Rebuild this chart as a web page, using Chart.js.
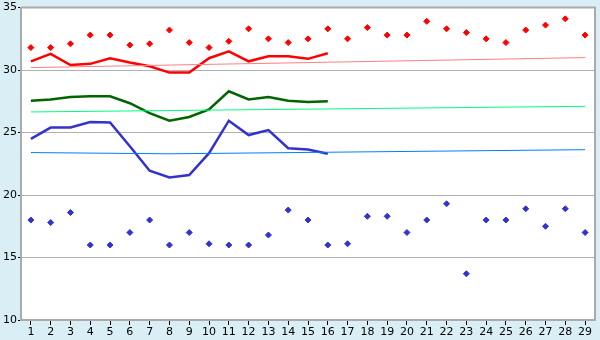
<!DOCTYPE html>
<html>
<head>
<meta charset="utf-8">
<script src="https://cdn.jsdelivr.net/npm/chart.js@4"></script>
<style>
    html, body { margin: 0; padding: 0; background: #daeef5; }
    #wrap { width: 600px; height: 340px; }
</style>
</head>
<body>
<div id="wrap"><canvas id="chart" width="600" height="340"></canvas></div>
<script>
const days = ['1','2','3','4','5','6','7','8','9','10','11','12','13','14','15',
    '16','17','18','19','20','21','22','23','24','25','26','27','28','29'];

// daily highs / lows (scatter)
const highs = [31.8, 31.8, 32.1, 32.8, 32.8, 32.0, 32.1, 33.2, 32.2, 31.8, 32.3, 33.3, 32.5, 32.2, 32.5,
    33.3, 32.5, 33.4, 32.8, 32.8, 33.9, 33.3, 33.0, 32.5, 32.2, 33.2, 33.6, 34.1, 32.8];
const lows = [18.0, 17.8, 18.6, 16.0, 16.0, 17.0, 18.0, 16.0, 17.0, 16.1, 16.0, 16.0, 16.8, 18.8, 18.0,
    16.0, 16.1, 18.3, 18.3, 17.0, 18.0, 19.3, 13.7, 18.0, 18.0, 18.9, 17.5, 18.9, 17.0];

// running averages (first 16 days)
const avgHigh = [30.7, 31.3, 30.4, 30.5, 30.95, 30.6, 30.3, 29.8, 29.8, 30.95, 31.5, 30.7, 31.1, 31.1, 30.9, 31.35];
const avgMean = [27.55, 27.65, 27.85, 27.9, 27.9, 27.35, 26.55, 25.95, 26.25, 26.85, 28.3, 27.65, 27.85, 27.55, 27.45, 27.5];
const avgLow = [24.5, 25.4, 25.4, 25.85, 25.8, 23.9, 21.95, 21.4, 21.6, 23.35, 25.95, 24.8, 25.2, 23.75, 23.65, 23.3];

// long-term normals (read at a few days, joined)
const normHigh = [30.2, null, null, null, null, null, null, null, null, null, null, null, null, null, null,
    null, null, null, null, null, null, null, null, null, null, null, null, null, 31.0];
const normMean = [26.65, null, null, null, null, null, null, null, null, null, null, null, null, null, null,
    null, null, null, null, null, null, null, null, null, null, null, null, null, 27.1];
const normLow = [23.4, null, null, null, null, null, null, 23.3, null, null, null, null, null, null, null,
    null, null, null, null, null, null, null, null, null, null, null, null, null, 23.63];

const plotBg = {
    id: 'plotBg',
    beforeDraw(chart) {
        const { ctx, chartArea: a } = chart;
        ctx.save();
        ctx.fillStyle = '#daeef5';
        ctx.fillRect(0, 0, chart.width, chart.height);
        ctx.fillStyle = '#ffffff';
        ctx.fillRect(a.left, a.top, a.right - a.left, a.bottom - a.top);
        ctx.restore();
    },
    afterDraw(chart) {
        const { ctx, chartArea: a } = chart;
        ctx.save();
        ctx.strokeStyle = '#aaaaaa';
        ctx.lineWidth = 2;
        ctx.beginPath();
        ctx.moveTo(a.left, a.top);
        ctx.lineTo(a.right, a.top);
        ctx.lineTo(a.right, a.bottom);
        ctx.stroke();
        ctx.restore();
    }
};

function lineSet(data, color, width) {
    return {
        data: data,
        borderColor: color,
        borderWidth: width,
        pointRadius: 0,
        fill: false,
        spanGaps: true,
        tension: 0
    };
}

function dotSet(data, color) {
    return {
        data: data,
        showLine: false,
        pointStyle: 'rectRot',
        pointRadius: 3,
        backgroundColor: color,
        borderColor: color,
        borderWidth: 1
    };
}

new Chart(document.getElementById('chart'), {
    type: 'line',
    data: {
        labels: days,
        datasets: [
            lineSet(normHigh, '#ff8080', 1),
            lineSet(normMean, '#00ff80', 1),
            lineSet(normLow, '#0080ff', 1),
            lineSet(avgHigh, '#ff0000', 2.5),
            lineSet(avgMean, '#006400', 2.5),
            lineSet(avgLow, '#3333cc', 2.5),
            dotSet(highs, '#ff0000'),
            dotSet(lows, '#3333cc')
        ]
    },
    plugins: [plotBg],
    options: {
        responsive: false,
        animation: false,
        events: [],
        layout: { padding: { top: 5, right: 5, left: 0, bottom: 0 } },
        plugins: { legend: { display: false }, tooltip: { enabled: false } },
        scales: {
            x: {
                offset: true,
                grid: { drawOnChartArea: false, drawTicks: true, tickLength: 5, tickColor: '#000000', offset: false },
                border: { color: '#aaaaaa', width: 2 },
                ticks: { color: '#000000', font: { family: 'DejaVu Sans', size: 11 }, padding: 1, maxRotation: 0, autoSkip: false },
                afterFit(scale) { scale.height = 20; }
            },
            y: {
                min: 10,
                max: 35,
                ticks: { stepSize: 5, color: '#000000', font: { family: 'DejaVu Sans', size: 11 }, padding: 1 },
                grid: { color: '#b0b0b0', tickLength: 3, tickColor: '#000000' },
                border: { color: '#aaaaaa', width: 2 },
                afterFit(scale) { scale.width = 21; }
            }
        }
    }
});
</script>
</body>
</html>
